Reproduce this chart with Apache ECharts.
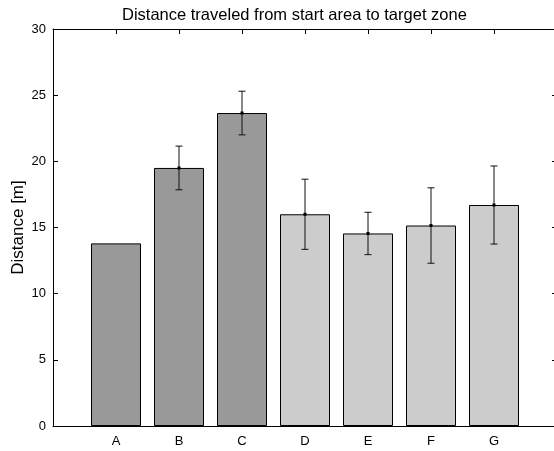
<!DOCTYPE html>
<html>
<head>
<meta charset="utf-8">
<script src="https://cdn.jsdelivr.net/npm/echarts@6/dist/echarts.min.js"></script>
<style>
html,body{margin:0;padding:0;background:#fff;}
#chart{width:554px;height:451px;}
</style>
</head>
<body>
<div id="chart"></div>
<script>
const categories = ['A','B','C','D','E','F','G'];
const means = [13.8, 19.5, 23.65, 16.0, 14.55, 15.15, 16.7];
const errors = [0, 1.65, 1.65, 2.65, 1.6, 2.85, 2.95];
const groupColors = ['#999999','#999999','#999999','#cccccc','#cccccc','#cccccc','#cccccc'];
const yTicks = [0, 5, 10, 15, 20, 25, 30];

const font = 'Liberation Sans, Arial, Helvetica, sans-serif';
const chart = echarts.init(document.getElementById('chart'));

const barData = means.map((v, i) => ({
  value: [i + 1, v],
  itemStyle: { color: groupColors[i] }
}));
const errData = means.map((v, i) => [i + 1, v - errors[i], v + errors[i], v, errors[i]]);

const lineStyle = { color: '#000', width: 1 };

chart.setOption({
  animation: false,
  title: {
    text: 'Distance traveled from start area to target zone',
    left: 117, top: 2,
    textStyle: { fontFamily: font, fontSize: 16.5, fontWeight: 'normal', color: '#000' }
  },
  grid: { left: 53, right: -3, top: 29, bottom: 25, containLabel: false, outerBoundsMode: 'none', show: false },
  xAxis: [{
    type: 'value', min: 0, max: categories.length + 1, interval: 1,
    position: 'bottom',
    axisLine: { show: true, onZero: false, lineStyle: lineStyle },
    axisTick: { show: false },
    splitLine: { show: false },
    axisLabel: {
      margin: 9, color: '#000', fontFamily: font, fontSize: 13,
      formatter: v => (v >= 1 && v <= categories.length) ? categories[v - 1] : ''
    }
  }, {
    type: 'value', min: 0, max: categories.length + 1, interval: 1,
    position: 'top',
    axisLine: { show: true, onZero: false, lineStyle: lineStyle },
    axisTick: { show: true, inside: true, length: 5, lineStyle: { color: '#000' } },
    splitLine: { show: false },
    axisLabel: { show: false }
  }],
  yAxis: [{
    type: 'value', min: yTicks[0], max: yTicks[yTicks.length - 1], interval: 5,
    position: 'left',
    name: 'Distance [m]', nameLocation: 'middle', nameGap: 26, nameMoveOverlap: false,
    nameTextStyle: { fontFamily: font, fontSize: 17, color: '#000' },
    axisLine: { show: true, onZero: false, lineStyle: lineStyle },
    axisTick: { show: true, inside: true, length: 5, lineStyle: { color: '#000' } },
    splitLine: { show: false },
    axisLabel: { margin: 7, color: '#000', fontFamily: font, fontSize: 13 }
  }, {
    type: 'value', min: yTicks[0], max: yTicks[yTicks.length - 1], interval: 5,
    position: 'right',
    axisLine: { show: false, onZero: false },
    axisTick: { show: true, inside: true, length: 5, lineStyle: { color: '#000' } },
    splitLine: { show: false },
    axisLabel: { show: false }
  }],
  series: [{
    type: 'bar',
    xAxisIndex: 0, yAxisIndex: 0,
    data: barData,
    barWidth: 50,
    itemStyle: { borderColor: '#000', borderWidth: 1 },
    z: 2
  }, {
    type: 'custom',
    xAxisIndex: 0, yAxisIndex: 0,
    data: errData,
    z: 3,
    renderItem: function (params, api) {
      if (api.value(4) <= 0) return null;
      const x = api.value(0);
      const lo = api.coord([x, api.value(1)]);
      const hi = api.coord([x, api.value(2)]);
      const mid = api.coord([x, api.value(3)]);
      const hw = 3.5;
      const st = { stroke: '#111', lineWidth: 1 };
      return {
        type: 'group',
        children: [
          { type: 'line', shape: { x1: hi[0], y1: hi[1], x2: lo[0], y2: lo[1] }, style: st },
          { type: 'line', shape: { x1: hi[0] - hw, y1: hi[1], x2: hi[0] + hw, y2: hi[1] }, style: st },
          { type: 'line', shape: { x1: lo[0] - hw, y1: lo[1], x2: lo[0] + hw, y2: lo[1] }, style: st },
          { type: 'rect', shape: { x: mid[0] - 1.5, y: mid[1] - 1.5, width: 3, height: 3 }, style: { fill: '#000' } }
        ]
      };
    }
  }]
});
</script>
</body>
</html>
